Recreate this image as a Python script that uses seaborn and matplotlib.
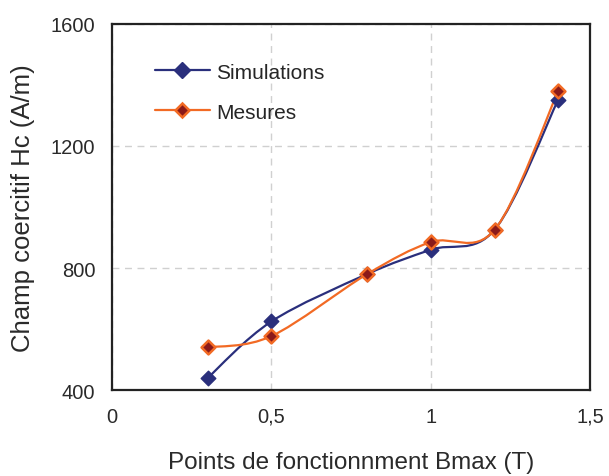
import numpy as np
import pandas as pd
import seaborn as sns
import matplotlib.pyplot as plt
from matplotlib.path import Path
from matplotlib.patches import PathPatch
from matplotlib.lines import Line2D

# values
bmax = [0.3, 0.5, 0.8, 1.0, 1.2, 1.4]
hc_simulations = [440, 625, 780, 860, 925, 1352]
hc_mesures = [540, 577, 780, 885, 925, 1380]

xticks = [0, 0.5, 1, 1.5]
xtick_labels = ["0", "0,5", "1", "1,5"]
yticks = [400, 800, 1200, 1600]

NAVY = "#2a2f7c"
ORANGE = "#f26a24"
DARKRED = "#8b1a1a"
TEXT = "#2a2a2a"


def smooth_path(xs, ys):
    """Excel-like smoothed line: cubic Bezier through the points."""
    pts = np.column_stack([xs, ys]).astype(float)
    n = len(pts)
    verts = [pts[0]]
    codes = [Path.MOVETO]
    for i in range(n - 1):
        p_prev = pts[i - 1] if i > 0 else pts[i]
        p_next2 = pts[i + 2] if i + 2 < n else pts[i + 1]
        c1 = pts[i] + (pts[i + 1] - p_prev) / 6
        c2 = pts[i + 1] - (p_next2 - pts[i]) / 6
        verts += [c1, c2, pts[i + 1]]
        codes += [Path.CURVE4] * 3
    return Path(verts, codes)


sns.set_style("white")
plt.rcParams["font.family"] = ["Liberation Sans", "DejaVu Sans"]

df = pd.DataFrame({
    "Bmax": bmax * 2,
    "Hc": hc_simulations + hc_mesures,
    "serie": ["Simulations"] * len(bmax) + ["Mesures"] * len(bmax),
})

fig = plt.figure(figsize=(6.09, 4.77), dpi=100)
ax = fig.add_axes([0.184, 0.180, 0.785, 0.768])

for vals, col in [(hc_simulations, NAVY), (hc_mesures, ORANGE)]:
    ax.add_patch(PathPatch(smooth_path(bmax, vals), facecolor="none",
                           edgecolor=col, lw=1.6, zorder=3))

sns.scatterplot(data=df[df.serie == "Simulations"], x="Bmax", y="Hc", ax=ax,
                marker="D", s=55, color=NAVY, edgecolor=NAVY, linewidth=1,
                zorder=4, legend=False)
sns.scatterplot(data=df[df.serie == "Mesures"], x="Bmax", y="Hc", ax=ax,
                marker="D", s=50, color=DARKRED, edgecolor=ORANGE, linewidth=1.8,
                zorder=5, legend=False)

ax.set_xlim(0, 1.5)
ax.set_ylim(400, 1600)
ax.set_xticks(xticks)
ax.set_xticklabels(xtick_labels)
ax.set_yticks(yticks)
ax.grid(True, color="#d0d0d0", linestyle=(0, (5, 4)), linewidth=1)
ax.tick_params(axis="both", length=5, width=1, color="#999999",
               direction="out", labelsize=14.5, labelcolor=TEXT, pad=7)
for sp in ax.spines.values():
    sp.set_color("#222222")
    sp.set_linewidth(1.6)

ax.set_xlabel("Points de fonctionnment Bmax (T)", fontsize=17.5,
              color=TEXT, labelpad=18)
ax.set_ylabel("Champ coercitif Hc (A/m)", fontsize=18.5, color=TEXT,
              labelpad=11)

handles = [
    Line2D([], [], color=NAVY, lw=1.6, marker="D", markersize=8,
           markerfacecolor=NAVY, markeredgecolor=NAVY),
    Line2D([], [], color=ORANGE, lw=1.6, marker="D", markersize=7,
           markerfacecolor=DARKRED, markeredgecolor=ORANGE, markeredgewidth=1.8),
]
ax.legend(handles, ["Simulations", "Mesures"], loc="upper left",
          bbox_to_anchor=(0.05, 0.945), frameon=False, fontsize=15,
          handlelength=2.65, labelspacing=1.0, handletextpad=0.3)

fig.savefig("out.png", dpi=100)
